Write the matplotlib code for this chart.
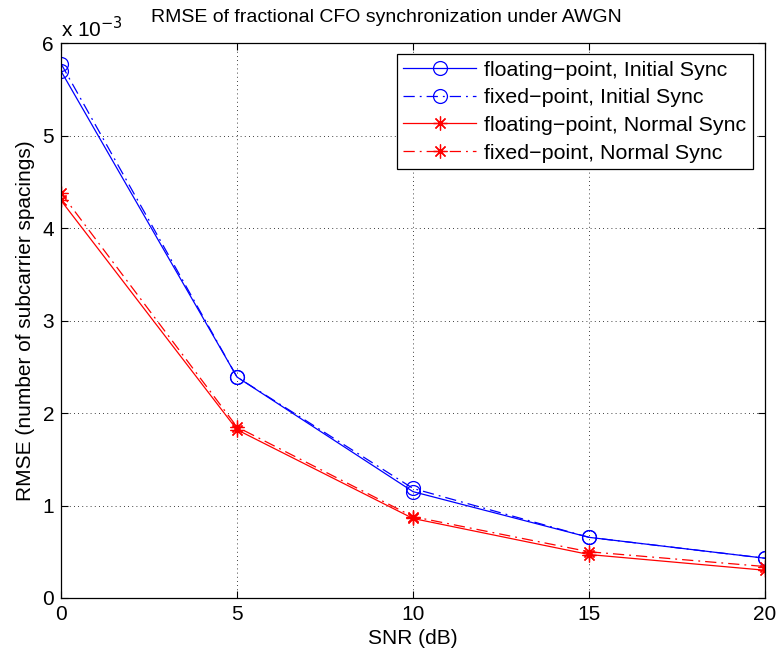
import matplotlib
matplotlib.use("Agg")
import matplotlib.pyplot as plt
from matplotlib.ticker import FuncFormatter

plt.rcParams['font.family'] = ['Liberation Sans', 'DejaVu Sans']

snr_db = [0, 5, 10, 15, 20]
# RMSE values in units of 1e-3 subcarrier spacings
float_initial = [5.70, 2.39, 1.15, 0.656, 0.43]
fixed_initial = [5.78, 2.39, 1.185, 0.656, 0.43]
float_normal = [4.30, 1.82, 0.86, 0.47, 0.30]
fixed_normal = [4.38, 1.85, 0.88, 0.50, 0.34]
scale = 1e-3

fig = plt.figure(figsize=(7.78, 6.58), dpi=100)
ax = fig.add_axes([0.0784, 0.0912, 0.905, 0.843])

dashdot = (0, (9, 4, 1.5, 4))
ax.plot(snr_db, [v * scale for v in float_initial], color='blue', lw=0.9,
        marker='o', ms=10, mfc='none', mew=0.9, label='floating\u2212point, Initial Sync')
ax.plot(snr_db, [v * scale for v in fixed_initial], color='blue', lw=0.9, ls=dashdot,
        marker='o', ms=10, mfc='none', mew=0.9, label='fixed\u2212point, Initial Sync')
ax.plot(snr_db, [v * scale for v in float_normal], color='red', lw=0.9,
        marker=(8, 2, 0), ms=10, mew=0.9, label='floating\u2212point, Normal Sync')
ax.plot(snr_db, [v * scale for v in fixed_normal], color='red', lw=0.9, ls=dashdot,
        marker=(8, 2, 0), ms=10, mew=0.9, label='fixed\u2212point, Normal Sync')

ax.set_xlim(0, 20)
ax.set_ylim(0, 6e-3)
ax.set_xticks([0, 5, 10, 15, 20])
ax.set_yticks([i * scale for i in range(7)])
ax.yaxis.set_major_formatter(FuncFormatter(lambda v, p: f"{v / scale:.0f}"))
ax.tick_params(direction='in', top=True, right=True, labelsize=15, length=5,
               width=0.8, pad=5)
for s in ax.spines.values():
    s.set_linewidth(0.9)
ax.grid(True, color='black', ls=(0, (1, 4)), lw=0.6)

ax.text(0.0, 1.004, 'x 10$^{-3}$', transform=ax.transAxes, fontsize=15,
        ha='left', va='bottom')
fig.text(386 / 778, 1 - 18 / 658, 'RMSE of fractional CFO synchronization under AWGN',
         fontsize=14, ha='center', va='center')
ax.set_xlabel('SNR (dB)', fontsize=15, labelpad=4)
ax.set_ylabel('RMSE (number of subcarrier spacings)', fontsize=15, labelpad=5)

leg = ax.legend(loc='upper right', fontsize=15.4, numpoints=1, frameon=True,
                fancybox=False, edgecolor='black', framealpha=1,
                bbox_to_anchor=(753 / 778, 1 - 54 / 658), bbox_transform=fig.transFigure,
                borderaxespad=0, handlelength=3.4, labelspacing=0.4,
                handletextpad=0.37, borderpad=0.32)
leg.get_frame().set_linewidth(0.9)

fig.savefig('out.png', dpi=100)
